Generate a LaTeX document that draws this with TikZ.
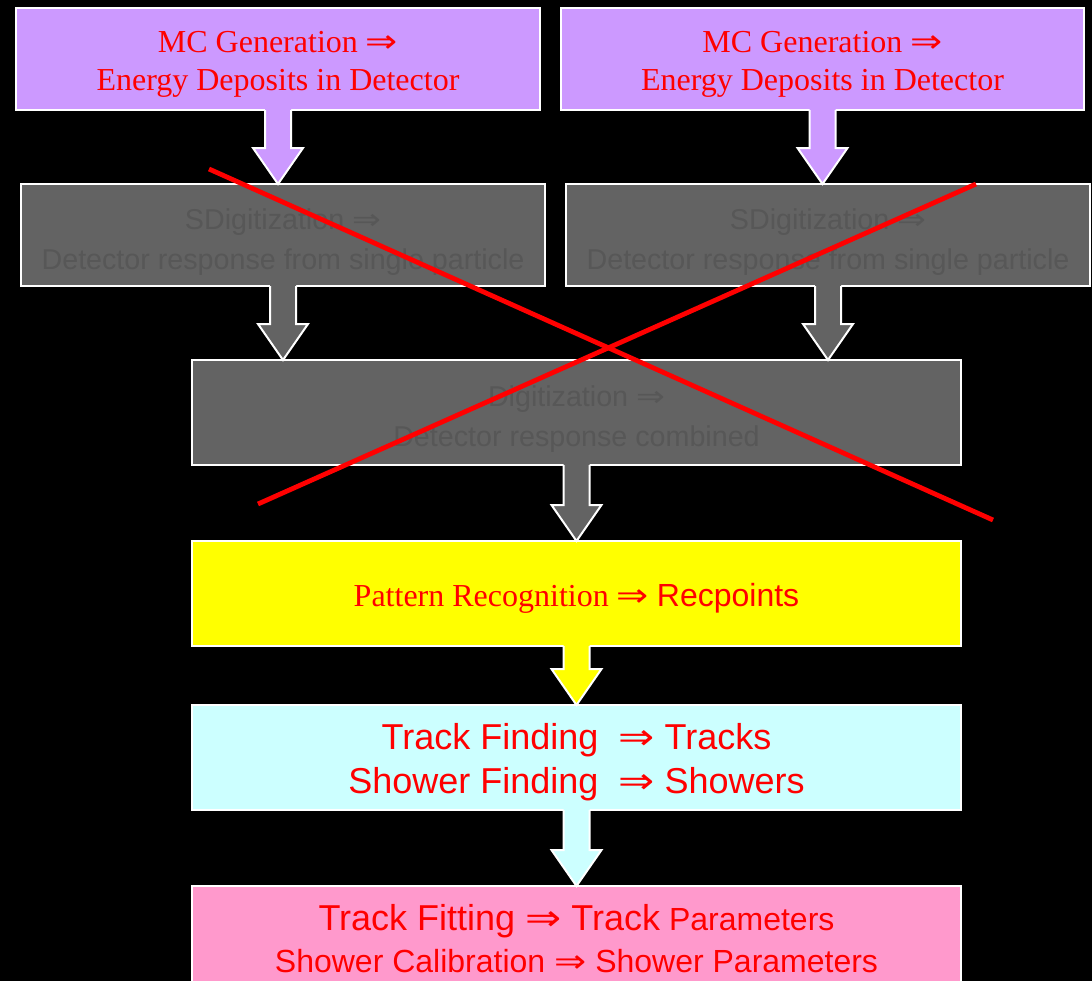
\documentclass[tikz,border=0pt]{standalone}
\usepackage{fontspec}
\setmainfont{Liberation Serif}
\newfontfamily\arial{Liberation Sans}
\newfontfamily\sym{DejaVu Sans}
\usetikzlibrary{calc}
\definecolor{lav}{HTML}{CC99FF}
\definecolor{gbox}{HTML}{636363}
\definecolor{gtext}{HTML}{575757}
\definecolor{ylw}{HTML}{FFFF00}
\definecolor{cyn}{HTML}{CCFFFF}
\definecolor{pnk}{HTML}{FF99CC}
\definecolor{rd}{HTML}{FF0000}
\newcommand\arr{{\sym\scalebox{1.2}[1.0]{⇒}}}
\newcommand\blockarrow[3]{%
  \fill[#3] ($(#1.south)+(-13,-2)$) -- ($(#1.south |- #2.north)+(-13,-36)$)
    -- ($(#1.south |- #2.north)+(-25,-36)$) -- (#1.south |- #2.north)
    -- ($(#1.south |- #2.north)+(25,-36)$) -- ($(#1.south |- #2.north)+(13,-36)$)
    -- ($(#1.south)+(13,-2)$) -- cycle;
  \draw[arrline] ($(#1.south)+(-13,0)$) -- ($(#1.south |- #2.north)+(-13,-36)$)
    -- ($(#1.south |- #2.north)+(-25,-36)$) -- (#1.south |- #2.north)
    -- ($(#1.south |- #2.north)+(25,-36)$) -- ($(#1.south |- #2.north)+(13,-36)$)
    -- ($(#1.south)+(13,0)$);
}
\tikzset{
  box/.style={draw=white, line width=1.5pt, rectangle, outer sep=0pt, inner sep=0pt},
  txt/.style={align=center, text=rd, inner sep=0pt},
  greybox/.style={box, fill=gbox},
  greytxt/.style={txt, text=gtext, font=\arial\fontsize{21.5}{30}\selectfont},
  arrline/.style={draw=white, line width=1.5pt, line join=miter},
  cross/.style={draw=rd, line width=3.6pt},
}
\begin{document}
\begin{tikzpicture}[x=0.75pt, y=-0.75pt]
\fill[black] (0,0) rectangle (1092,981);
\useasboundingbox (0,0) rectangle (1092,981);

\node[box, fill=lav, minimum width=393pt, minimum height=76.5pt] (mc1) at (278,59) {};
\node[txt, yshift=-3.75pt, font=\fontsize{24}{28.5}\selectfont] (mc1t) at (mc1)
  {MC Generation \arr\\Energy Deposits in Detector};
\node[box, fill=lav, minimum width=392.25pt, minimum height=76.5pt] (mc2) at (822.5,59) {};
\node[txt, yshift=-3.75pt, font=\fontsize{24}{28.5}\selectfont] (mc2t) at (mc2)
  {MC Generation \arr\\Energy Deposits in Detector};

\node[greybox, minimum width=393pt, minimum height=76.5pt] (sd1) at (283,235) {};
\node[greytxt, yshift=-5.25pt] (sd1t) at (sd1) {SDigitization \arr\\Detector response from single particle};
\node[greybox, minimum width=393pt, minimum height=76.5pt] (sd2) at (828,235) {};
\node[greytxt, yshift=-5.25pt] (sd2t) at (sd2) {SDigitization \arr\\Detector response from single particle};

\node[greybox, minimum width=576.75pt, minimum height=78.75pt] (dig) at (576.5,412.5) {};
\node[greytxt, yshift=-5.25pt] (digt) at (dig) {Digitization \arr\\Detector response combined};

\node[box, fill=ylw, minimum width=576.75pt, minimum height=78.75pt] (pat) at (576.5,593.5) {};
\node[txt, yshift=-3.75pt, font=\fontsize{24}{30}\selectfont] (patt) at (pat)
  {Pattern Recognition \arr\ {\arial Recpoints}};

\node[box, fill=cyn, minimum width=576.75pt, minimum height=78.75pt] (trk) at (576.5,757.5) {};
\node[txt, yshift=-3.75pt, font=\arial\fontsize{27}{33}\selectfont] (trkt) at (trk)
  {Track Finding \ \arr\ Tracks\\Shower Finding \ \arr\ Showers};

\node[box, fill=pnk, minimum width=576.75pt, minimum height=79.5pt] (fit) at (576.5,939) {};
\node[txt, font=\arial\fontsize{24}{31.5}\selectfont] (fitt) at (fit)
  {{\fontsize{27}{31.5}\selectfont Track Fitting \arr\ Track} Parameters\\
  Shower Calibration \arr\ Shower Parameters};

\blockarrow{mc1}{sd1}{lav}
\blockarrow{mc2}{sd2}{lav}
\blockarrow{sd1}{dig}{gbox}
\blockarrow{sd2}{dig}{gbox}
\blockarrow{dig}{pat}{gbox}
\blockarrow{pat}{trk}{ylw}
\blockarrow{trk}{fit}{cyn}

\draw[cross] (209,169) -- (993,520);
\draw[cross] (258,504) -- (976,184);
\end{tikzpicture}
\end{document}
